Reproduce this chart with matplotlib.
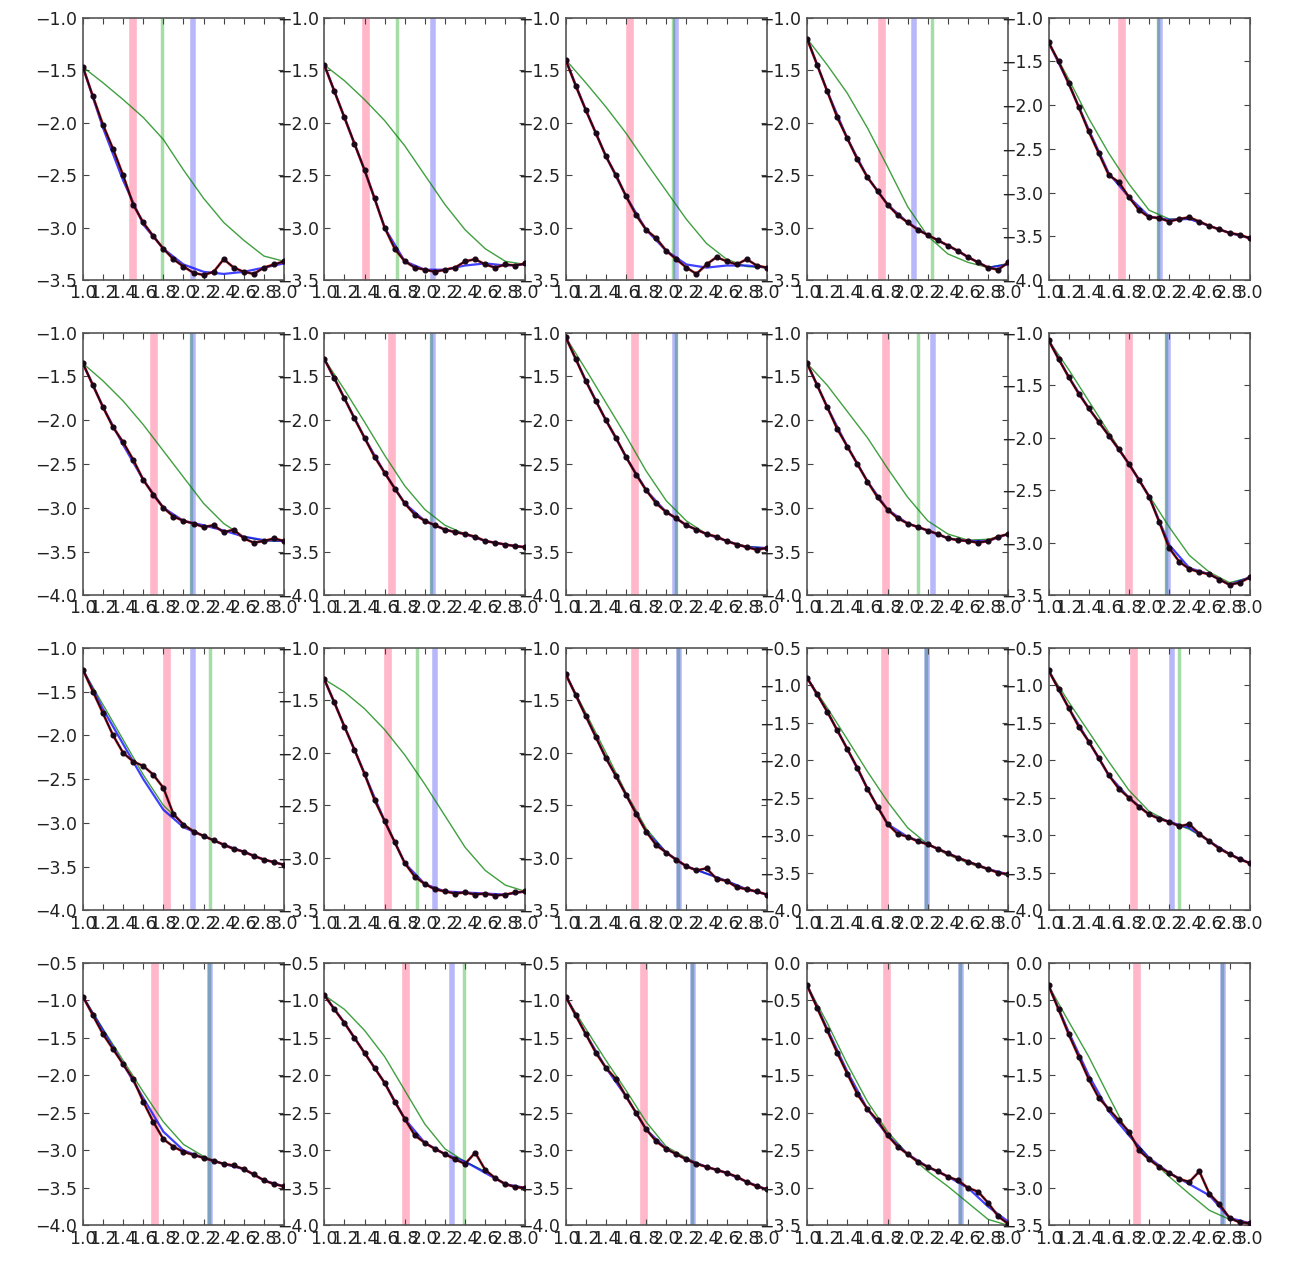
import matplotlib
matplotlib.use("Agg")
import matplotlib.pyplot as plt
from matplotlib.ticker import MultipleLocator, FuncFormatter

# log k grid of the measured spectra and of the model curves
x_data = [1.0, 1.1, 1.2, 1.3, 1.4, 1.5, 1.6, 1.7, 1.8, 1.9, 2.0,
          2.1, 2.2, 2.3, 2.4, 2.5, 2.6, 2.7, 2.8, 2.9, 3.0]
x_model = [1.0, 1.2, 1.4, 1.6, 1.8, 2.0, 2.2, 2.4, 2.6, 2.8, 3.0]

# measured log power, one list per panel
data_row1 = [
    [-1.47, -1.75, -2.02, -2.25, -2.5, -2.78, -2.95, -3.08, -3.2, -3.3, -3.37,
     -3.43, -3.45, -3.42, -3.3, -3.38, -3.42, -3.44, -3.38, -3.35, -3.32],
    [-1.45, -1.7, -1.95, -2.2, -2.45, -2.72, -3.0, -3.2, -3.32, -3.38, -3.4,
     -3.42, -3.4, -3.38, -3.32, -3.3, -3.35, -3.38, -3.35, -3.36, -3.34],
    [-1.4, -1.65, -1.88, -2.1, -2.32, -2.5, -2.7, -2.88, -3.02, -3.1, -3.22,
     -3.3, -3.38, -3.44, -3.35, -3.28, -3.32, -3.35, -3.3, -3.36, -3.38],
    [-1.2, -1.45, -1.7, -1.95, -2.15, -2.35, -2.52, -2.65, -2.78, -2.88, -2.95,
     -3.02, -3.07, -3.12, -3.17, -3.22, -3.28, -3.33, -3.38, -3.4, -3.33],
    [-1.28, -1.5, -1.75, -2.02, -2.3, -2.55, -2.8, -2.88, -3.05, -3.2, -3.28,
     -3.29, -3.33, -3.3, -3.28, -3.33, -3.38, -3.42, -3.46, -3.48, -3.52],
]
data_row2 = [
    [-1.35, -1.6, -1.85, -2.08, -2.25, -2.45, -2.68, -2.85, -3.0, -3.1, -3.15,
     -3.18, -3.22, -3.2, -3.28, -3.25, -3.35, -3.4, -3.38, -3.35, -3.38],
    [-1.3, -1.52, -1.75, -1.98, -2.2, -2.42, -2.6, -2.78, -2.95, -3.08, -3.15,
     -3.2, -3.25, -3.28, -3.3, -3.33, -3.38, -3.4, -3.42, -3.44, -3.45],
    [-1.05, -1.3, -1.55, -1.78, -2.0, -2.2, -2.42, -2.62, -2.8, -2.95, -3.05,
     -3.12, -3.2, -3.25, -3.3, -3.33, -3.38, -3.42, -3.45, -3.48, -3.46],
    [-1.35, -1.6, -1.85, -2.1, -2.3, -2.5, -2.7, -2.88, -3.02, -3.12, -3.18,
     -3.22, -3.26, -3.3, -3.35, -3.37, -3.38, -3.4, -3.38, -3.33, -3.3],
    [-1.07, -1.25, -1.42, -1.58, -1.72, -1.85, -1.98, -2.11, -2.25, -2.4, -2.56,
     -2.8, -3.05, -3.18, -3.25, -3.28, -3.3, -3.35, -3.4, -3.38, -3.33],
]
data_row3 = [
    [-1.25, -1.5, -1.75, -2.0, -2.2, -2.3, -2.35, -2.45, -2.6, -2.9, -3.02,
     -3.1, -3.15, -3.2, -3.25, -3.3, -3.33, -3.38, -3.42, -3.45, -3.48],
    [-1.3, -1.52, -1.75, -1.97, -2.2, -2.45, -2.65, -2.85, -3.05, -3.18, -3.25,
     -3.3, -3.32, -3.34, -3.33, -3.35, -3.34, -3.36, -3.35, -3.33, -3.32],
    [-1.25, -1.45, -1.65, -1.85, -2.05, -2.22, -2.4, -2.58, -2.75, -2.88, -2.95,
     -3.02, -3.08, -3.12, -3.1, -3.2, -3.22, -3.28, -3.3, -3.32, -3.35],
    [-0.9, -1.12, -1.35, -1.6, -1.85, -2.1, -2.38, -2.62, -2.85, -2.98, -3.02,
     -3.08, -3.12, -3.18, -3.24, -3.3, -3.35, -3.4, -3.45, -3.5, -3.52],
    [-0.8, -1.05, -1.3, -1.55, -1.75, -1.97, -2.2, -2.38, -2.5, -2.62, -2.72,
     -2.78, -2.82, -2.88, -2.85, -2.98, -3.08, -3.18, -3.25, -3.32, -3.37],
]
data_row4 = [
    [-0.95, -1.2, -1.45, -1.65, -1.85, -2.05, -2.35, -2.62, -2.85, -2.95, -3.02,
     -3.06, -3.1, -3.14, -3.18, -3.2, -3.25, -3.32, -3.4, -3.45, -3.48],
    [-0.93, -1.12, -1.3, -1.5, -1.7, -1.9, -2.1, -2.35, -2.58, -2.8, -2.9,
     -2.98, -3.05, -3.12, -3.18, -3.03, -3.26, -3.37, -3.45, -3.49, -3.5],
    [-0.95, -1.2, -1.45, -1.7, -1.9, -2.05, -2.28, -2.5, -2.72, -2.88, -2.98,
     -3.05, -3.12, -3.18, -3.22, -3.26, -3.3, -3.35, -3.42, -3.48, -3.52],
    [-0.3, -0.6, -0.9, -1.2, -1.48, -1.75, -1.95, -2.1, -2.3, -2.45, -2.55,
     -2.65, -2.72, -2.78, -2.85, -2.9, -3.0, -3.05, -3.2, -3.38, -3.48],
    [-0.3, -0.62, -0.95, -1.25, -1.55, -1.8, -1.95, -2.1, -2.25, -2.5, -2.62,
     -2.72, -2.8, -2.88, -2.92, -2.78, -3.08, -3.22, -3.4, -3.46, -3.47],
]

# fitted model (blue) on the coarse grid
blue_row1 = [
    [-1.47, -2.05, -2.55, -2.97, -3.2, -3.35, -3.42, -3.44, -3.42, -3.38, -3.34],
    [-1.45, -1.95, -2.45, -3.0, -3.32, -3.4, -3.4, -3.36, -3.34, -3.36, -3.35],
    [-1.4, -1.88, -2.32, -2.7, -3.02, -3.22, -3.35, -3.38, -3.36, -3.36, -3.38],
    [-1.2, -1.7, -2.15, -2.52, -2.78, -2.95, -3.07, -3.17, -3.28, -3.38, -3.35],
    [-1.28, -1.75, -2.28, -2.78, -3.05, -3.27, -3.31, -3.3, -3.38, -3.46, -3.52],
]
blue_row2 = [
    [-1.35, -1.85, -2.28, -2.68, -3.0, -3.15, -3.2, -3.26, -3.33, -3.37, -3.38],
    [-1.3, -1.75, -2.2, -2.6, -2.95, -3.15, -3.25, -3.3, -3.38, -3.42, -3.45],
    [-1.05, -1.55, -2.0, -2.42, -2.8, -3.05, -3.2, -3.3, -3.38, -3.45, -3.46],
    [-1.35, -1.85, -2.3, -2.7, -3.02, -3.18, -3.26, -3.35, -3.38, -3.38, -3.3],
    [-1.07, -1.42, -1.72, -1.98, -2.25, -2.56, -3.02, -3.24, -3.3, -3.4, -3.33],
]
blue_row3 = [
    [-1.25, -1.7, -2.1, -2.5, -2.85, -3.05, -3.15, -3.25, -3.33, -3.42, -3.48],
    [-1.3, -1.75, -2.2, -2.65, -3.05, -3.25, -3.32, -3.33, -3.34, -3.35, -3.32],
    [-1.25, -1.65, -2.05, -2.4, -2.75, -2.95, -3.08, -3.15, -3.22, -3.3, -3.35],
    [-0.9, -1.35, -1.85, -2.38, -2.85, -3.02, -3.12, -3.24, -3.35, -3.45, -3.52],
    [-0.8, -1.3, -1.75, -2.2, -2.5, -2.72, -2.82, -2.9, -3.08, -3.25, -3.37],
]
blue_row4 = [
    [-0.95, -1.4, -1.85, -2.3, -2.75, -3.0, -3.1, -3.18, -3.25, -3.4, -3.48],
    [-0.93, -1.3, -1.7, -2.1, -2.58, -2.9, -3.05, -3.15, -3.3, -3.45, -3.5],
    [-0.95, -1.45, -1.9, -2.28, -2.72, -2.98, -3.12, -3.22, -3.3, -3.42, -3.52],
    [-0.3, -0.88, -1.45, -1.95, -2.3, -2.55, -2.72, -2.85, -3.0, -3.25, -3.45],
    [-0.3, -0.92, -1.5, -1.98, -2.3, -2.6, -2.8, -2.95, -3.1, -3.4, -3.47],
]

# linear-theory model (green) on the coarse grid
green_row1 = [
    [-1.47, -1.62, -1.78, -1.95, -2.16, -2.45, -2.72, -2.95, -3.12, -3.27, -3.32],
    [-1.45, -1.6, -1.78, -1.98, -2.22, -2.5, -2.78, -3.02, -3.2, -3.32, -3.35],
    [-1.4, -1.62, -1.85, -2.1, -2.38, -2.65, -2.92, -3.15, -3.3, -3.37, -3.38],
    [-1.2, -1.45, -1.72, -2.05, -2.42, -2.8, -3.08, -3.25, -3.33, -3.38, -3.34],
    [-1.28, -1.7, -2.15, -2.55, -2.9, -3.2, -3.3, -3.3, -3.38, -3.46, -3.52],
]
green_row2 = [
    [-1.35, -1.55, -1.78, -2.05, -2.35, -2.65, -2.95, -3.18, -3.33, -3.38, -3.38],
    [-1.3, -1.65, -2.02, -2.4, -2.75, -3.02, -3.2, -3.3, -3.38, -3.42, -3.45],
    [-1.05, -1.42, -1.8, -2.18, -2.58, -2.92, -3.15, -3.3, -3.38, -3.44, -3.46],
    [-1.35, -1.6, -1.9, -2.2, -2.55, -2.88, -3.15, -3.3, -3.37, -3.36, -3.3],
    [-1.07, -1.35, -1.65, -1.95, -2.25, -2.55, -2.85, -3.12, -3.28, -3.38, -3.33],
]
green_row3 = [
    [-1.25, -1.65, -2.05, -2.45, -2.8, -3.02, -3.15, -3.25, -3.33, -3.42, -3.48],
    [-1.3, -1.42, -1.58, -1.78, -2.02, -2.3, -2.6, -2.9, -3.12, -3.26, -3.32],
    [-1.25, -1.62, -2.0, -2.38, -2.72, -2.95, -3.08, -3.15, -3.22, -3.3, -3.35],
    [-0.9, -1.3, -1.72, -2.15, -2.55, -2.9, -3.12, -3.26, -3.37, -3.46, -3.52],
    [-0.8, -1.22, -1.62, -2.02, -2.4, -2.68, -2.82, -2.92, -3.08, -3.25, -3.37],
]
green_row4 = [
    [-0.95, -1.38, -1.8, -2.22, -2.62, -2.92, -3.08, -3.18, -3.25, -3.4, -3.48],
    [-0.93, -1.12, -1.4, -1.75, -2.2, -2.65, -2.98, -3.15, -3.28, -3.45, -3.5],
    [-0.95, -1.38, -1.8, -2.2, -2.62, -2.95, -3.1, -3.22, -3.3, -3.42, -3.52],
    [-0.3, -0.8, -1.35, -1.85, -2.25, -2.55, -2.78, -2.98, -3.2, -3.42, -3.5],
    [-0.3, -0.78, -1.25, -1.78, -2.3, -2.6, -2.85, -3.08, -3.3, -3.42, -3.48],
]

# scale markers (red, green, blue) for each panel
vlines_row1 = [(1.50, 1.79, 2.09), (1.41, 1.72, 2.08), (1.64, 2.07, 2.10),
               (1.74, 2.24, 2.06), (1.73, 2.09, 2.11)]
vlines_row2 = [(1.71, 2.07, 2.09), (1.67, 2.06, 2.08), (1.69, 2.10, 2.09),
               (1.78, 2.10, 2.25), (1.80, 2.17, 2.19)]
vlines_row3 = [(1.84, 2.26, 2.09), (1.63, 1.92, 2.10), (1.69, 2.12, 2.13),
               (1.77, 2.18, 2.19), (1.85, 2.30, 2.23)]
vlines_row4 = [(1.72, 2.25, 2.26), (1.81, 2.39, 2.27), (1.78, 2.26, 2.27),
               (1.79, 2.52, 2.53), (1.88, 2.72, 2.73)]

# y limits (top, bottom) for each panel
ylims_row1 = [(-1.0, -3.5), (-1.0, -3.5), (-1.0, -3.5), (-1.0, -3.5), (-1.0, -4.0)]
ylims_row2 = [(-1.0, -4.0), (-1.0, -4.0), (-1.0, -4.0), (-1.0, -4.0), (-1.0, -3.5)]
ylims_row3 = [(-1.0, -4.0), (-1.0, -3.5), (-1.0, -3.5), (-0.5, -4.0), (-0.5, -4.0)]
ylims_row4 = [(-0.5, -4.0), (-0.5, -4.0), (-0.5, -4.0), (0.0, -3.5), (0.0, -3.5)]

data_rows = [data_row1, data_row2, data_row3, data_row4]
blue_rows = [blue_row1, blue_row2, blue_row3, blue_row4]
green_rows = [green_row1, green_row2, green_row3, green_row4]
vline_rows = [vlines_row1, vlines_row2, vlines_row3, vlines_row4]
ylim_rows = [ylims_row1, ylims_row2, ylims_row3, ylims_row4]


def fmt(v, pos):
    # one decimal, with a real minus sign
    return ('%.1f' % v).replace('-', '\u2212')


plt.rcParams['font.family'] = 'DejaVu Sans'
plt.rcParams['font.size'] = 12.5
plt.rcParams['xtick.direction'] = 'in'
plt.rcParams['ytick.direction'] = 'in'
plt.rcParams['xtick.top'] = True
plt.rcParams['ytick.right'] = True
plt.rcParams['xtick.major.size'] = 4
plt.rcParams['ytick.major.size'] = 4
plt.rcParams['xtick.major.pad'] = 3
plt.rcParams['ytick.major.pad'] = 4

fig, axes = plt.subplots(4, 5, figsize=(12.95, 12.62), dpi=100)
fig.subplots_adjust(left=0.064, right=0.965, bottom=0.029, top=0.986,
                    wspace=0.2, hspace=0.2)

for r in range(4):
    for c in range(5):
        ax = axes[r][c]
        xr, xg, xb = vline_rows[r][c]
        ax.axvline(xr, color='#ff3366', lw=5.5, alpha=0.35, zorder=1)
        ax.axvline(xg, color='#22aa22', lw=2.5, alpha=0.4, zorder=1)
        ax.axvline(xb, color='#3333ee', lw=4, alpha=0.35, zorder=1)

        ax.plot(x_model, green_rows[r][c], color='g', lw=1.0, alpha=0.75, zorder=2)
        ax.plot(x_model, blue_rows[r][c], color='b', lw=1.6, alpha=0.75, zorder=3)
        ax.plot(x_data, data_rows[r][c], color='r', lw=2.0, alpha=0.7, zorder=4)
        ax.plot(x_data, data_rows[r][c], color='#1a0818', lw=1.3, marker='o',
                ms=3.4, zorder=5)

        top, bottom = ylim_rows[r][c]
        ax.set_xlim(1.0, 3.0)
        ax.set_ylim(bottom, top)
        ax.xaxis.set_major_locator(MultipleLocator(0.2))
        ax.yaxis.set_major_locator(MultipleLocator(0.5))
        ax.xaxis.set_major_formatter(FuncFormatter(fmt))
        ax.yaxis.set_major_formatter(FuncFormatter(fmt))
        for s in ax.spines.values():
            s.set_color('#555555')
            s.set_linewidth(1.2)
        ax.tick_params(colors='#444444', labelcolor='#222222')

fig.savefig('out.png', dpi=100)
